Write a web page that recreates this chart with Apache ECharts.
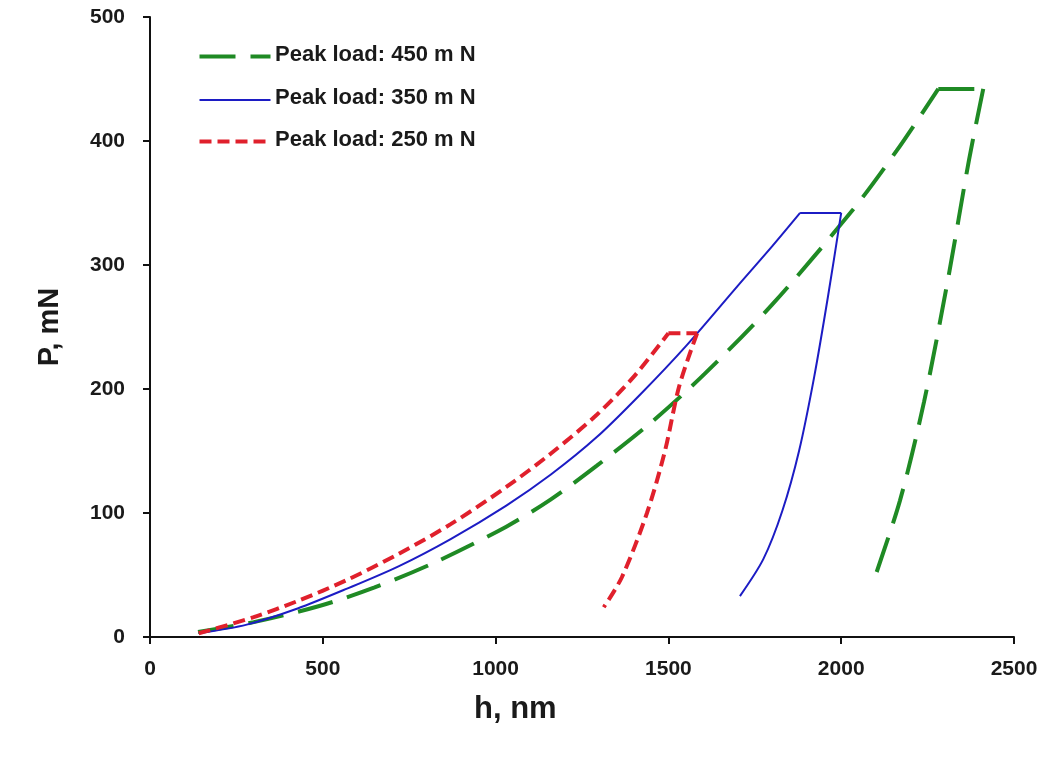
<!DOCTYPE html>
<html>
<head>
<meta charset="utf-8">
<script src="https://cdn.jsdelivr.net/npm/echarts@6/dist/echarts.min.js"></script>
<style>
html,body{margin:0;padding:0;background:#fff;}
#chart{width:1049px;height:757px;}
</style>
</head>
<body>
<div id="chart"></div>
<script>
// ---- Data (h in nm, P in mN) ----
const names = ['Peak load: 450 m N', 'Peak load: 350 m N', 'Peak load: 250 m N'];

const h450 = [139, 300, 490, 650, 823, 1031, 1160, 1292, 1450, 1604, 1800, 2035, 2160, 2281, 2411, 2370, 2310, 2240, 2170, 2091];
const p450 = [4, 12, 25, 40, 60, 89, 111, 138, 173, 212, 268, 345, 392, 442, 442, 385, 290, 190, 110, 43];

const h350 = [141, 280, 427, 570, 719, 870, 1031, 1160, 1292, 1420, 1552, 1700, 1800, 1881, 2000, 1962, 1922, 1878, 1830, 1775, 1707];
const p350 = [3, 10, 23, 39, 57, 79, 106, 131, 161, 196, 235, 283, 315, 342, 342, 275, 210, 150, 102, 63, 33];

const h250 = [141, 300, 427, 570, 719, 870, 1031, 1160, 1292, 1400, 1500, 1583, 1531, 1490, 1438, 1365, 1313];
const p250 = [3, 16, 29, 46, 67, 91, 121, 148, 179, 210, 245, 245, 202, 150, 100, 48, 24];

const xTicks = [0, 500, 1000, 1500, 2000, 2500];
const yTicks = [0, 100, 200, 300, 400, 500];

const FONT = 'Liberation Sans, Arial, sans-serif';
const TXT = '#1a1a1a';

const styles = [
  {color: '#1f8a24', width: 4, dash: [36, 15]},
  {color: '#1c1cc4', width: 2, dash: null},
  {color: '#e0202c', width: 4, dash: [12, 6]}
];

function pairs(h, p, a, b) {
  const out = [];
  for (let i = a; i <= b; i++) out.push([h[i], p[i]]);
  return out;
}

// split each curve into loading / hold / unloading parts
function curveSeries(h, p, name, st) {
  const pmax = Math.max.apply(null, p);
  const i1 = p.indexOf(pmax), i2 = p.lastIndexOf(pmax);
  const ls = {color: st.color, width: st.width, type: st.dash || 'solid', cap: 'butt'};
  const base = {name: name, type: 'line', symbol: 'none', lineStyle: ls, itemStyle: {color: st.color}, z: 3};
  return [
    Object.assign({}, base, {data: pairs(h, p, 0, i1), smooth: 0.3}),
    Object.assign({}, base, {data: pairs(h, p, i1, i2), smooth: false}),
    Object.assign({}, base, {data: pairs(h, p, i2, h.length - 1), smooth: 0.3})
  ];
}

const series = []
  .concat(curveSeries(h450, p450, names[0], styles[0]))
  .concat(curveSeries(h350, p350, names[1], styles[1]))
  .concat(curveSeries(h250, p250, names[2], styles[2]));

// legend drawn as graphic (line sample + label)
const legendGraphics = [];
names.forEach((n, i) => {
  const y = 56 + i * 42.5;
  const st = styles[i];
  legendGraphics.push({
    type: 'line', left: 197, top: y - st.width / 2, silent: true,
    shape: {x1: 0, y1: st.width / 2, x2: 71, y2: st.width / 2},
    style: {stroke: st.color, lineWidth: st.width, lineDash: st.dash || null}
  });
  legendGraphics.push({
    type: 'text', left: 275, top: y - 12, silent: true,
    style: {text: n, font: 'bold 22px ' + FONT, fill: TXT}
  });
});

const chart = echarts.init(document.getElementById('chart'), null, {renderer: 'canvas'});
const tickFont = {fontFamily: FONT, fontWeight: 'bold', fontSize: 21, color: TXT};

chart.setOption({
  animation: false,
  backgroundColor: '#fff',
  grid: {left: 150, right: 35, top: 17, bottom: 120, containLabel: false},
  xAxis: {
    type: 'value', min: xTicks[0], max: xTicks[xTicks.length - 1], interval: 500,
    axisLine: {show: true, lineStyle: {color: '#111', width: 2}},
    axisTick: {show: true, inside: false, length: 7, lineStyle: {color: '#111', width: 2}},
    axisLabel: Object.assign({margin: 22, formatter: v => String(v)}, tickFont),
    splitLine: {show: false}
  },
  yAxis: {
    type: 'value', min: yTicks[0], max: yTicks[yTicks.length - 1], interval: 100,
    axisLine: {show: true, lineStyle: {color: '#111', width: 2}},
    axisTick: {show: true, inside: false, length: 7, lineStyle: {color: '#111', width: 2}},
    axisLabel: Object.assign({margin: 25, formatter: v => String(v)}, tickFont),
    splitLine: {show: false}
  },
  graphic: legendGraphics.concat([
    {
      type: 'text', left: 474, top: 694, silent: true,
      style: {text: 'h, nm', font: 'bold 31px ' + FONT, fill: TXT}
    },
    {
      type: 'text', x: 50, y: 327, rotation: Math.PI / 2, silent: true,
      style: {text: 'P, mN', font: 'bold 29px ' + FONT, fill: TXT, align: 'center', verticalAlign: 'middle'}
    }
  ]),
  series: series
});
</script>
</body>
</html>
